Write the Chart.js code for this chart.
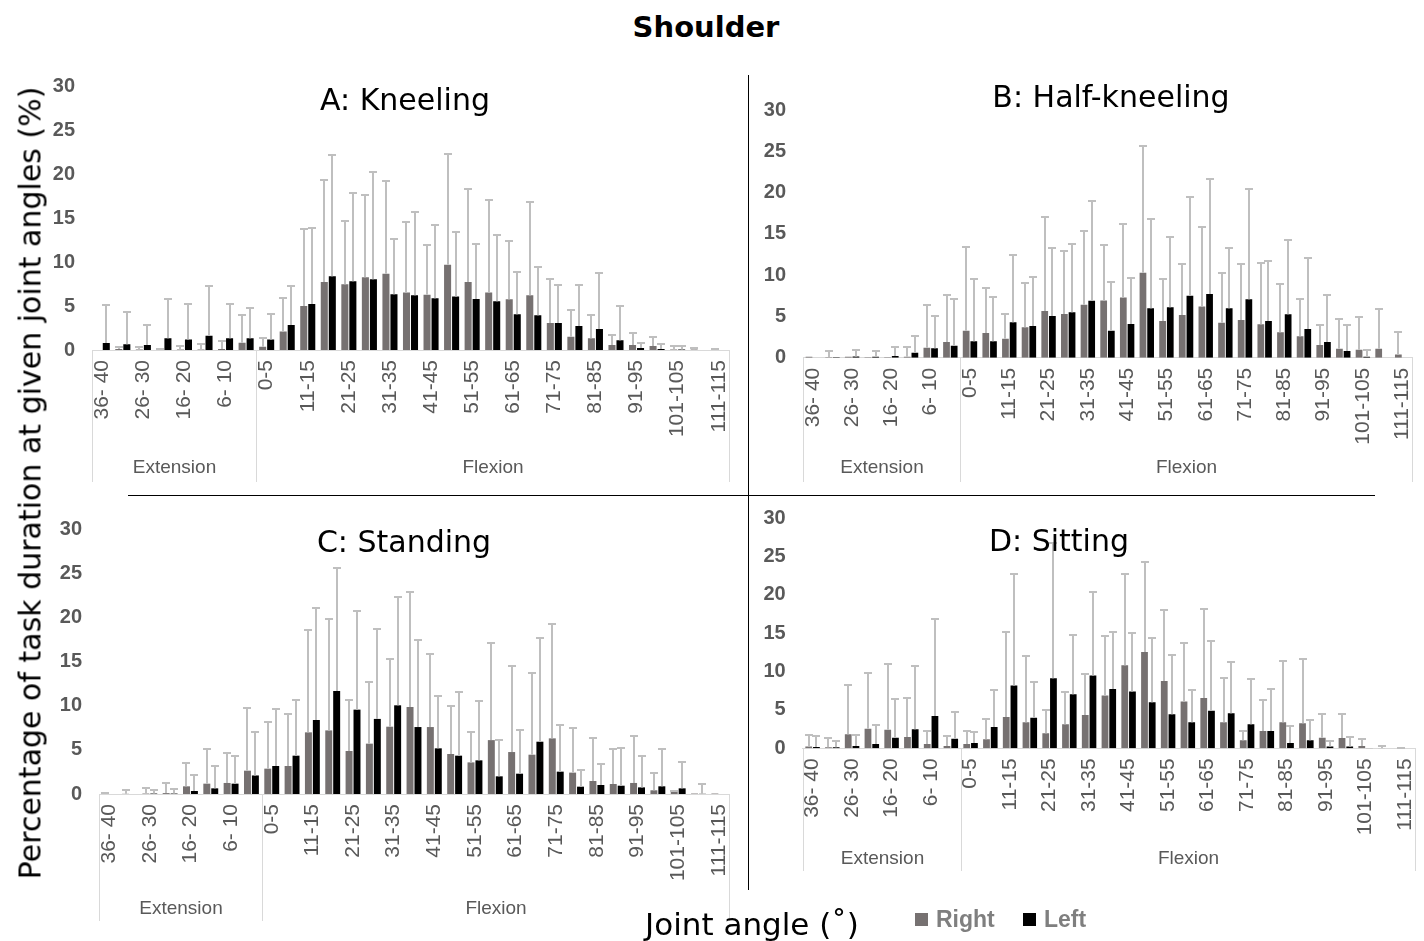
<!DOCTYPE html>
<html>
<head>
<meta charset="utf-8">
<script src="https://cdn.jsdelivr.net/npm/chart.js@4.4.1/dist/chart.umd.min.js"></script>
<style>
  body { margin: 0; background: #fff; width: 1424px; height: 941px; position: relative; overflow: hidden; font-family: "DejaVu Sans", sans-serif; }
  canvas { position: absolute; }
  .txt { position: absolute; white-space: nowrap; transform: translate(-50%, -50%); color: #000; }
  .line { position: absolute; background: #000; }
  .key { position: absolute; font-family: 'Liberation Sans', Arial, sans-serif; font-size: 23px; font-weight: bold; color: #7f7f7f; white-space: nowrap; }
  .sq { position: absolute; width: 13px; height: 13px; }
</style>
</head>
<body>
<canvas id="kneeling" width="700" height="415" style="left:40px;top:75px"></canvas>
<canvas id="halfKneeling" width="674" height="415" style="left:750px;top:75px"></canvas>
<canvas id="standing" width="700" height="430" style="left:40px;top:505px"></canvas>
<canvas id="sitting" width="674" height="380" style="left:750px;top:505px"></canvas>

<div class="line" style="left:748px;top:75px;width:1px;height:815px"></div>
<div class="line" style="left:128px;top:495px;width:1247px;height:1px"></div>

<div class="txt" style="left:706px;top:27px;font-size:29px;font-weight:bold">Shoulder</div>
<div class="txt" style="left:405px;top:99px;font-size:30px">A: Kneeling</div>
<div class="txt" style="left:1111px;top:96px;font-size:30px">B: Half-kneeling</div>
<div class="txt" style="left:404px;top:541px;font-size:30px">C: Standing</div>
<div class="txt" style="left:1059px;top:540px;font-size:30px">D: Sitting</div>
<div class="txt" style="left:30px;top:483px;font-size:30px;transform:translate(-50%,-50%) rotate(-90deg)">Percentage of task duration at given joint angles (%)</div>
<div class="txt" style="left:752px;top:924px;font-size:31px">Joint angle (˚)</div>

<div class="sq" style="left:915px;top:913px;background:#767171"></div>
<div class="key" style="left:936px;top:906px">Right</div>
<div class="sq" style="left:1023px;top:913px;background:#000"></div>
<div class="key" style="left:1044px;top:906px">Left</div>

<script>
// angle classes, extension first then flexion
const extLabels = ['36- 40', '31- 35', '26- 30', '21- 25', '16- 20', '11- 15', '6- 10', '1- 5'];
const flexLabels = ['0-5', '6-10', '11-15', '16-20', '21-25', '26-30', '31-35', '36-40', '41-45', '46-50',
  '51-55', '56-60', '61-65', '66-70', '71-75', '76-80', '81-85', '86-90', '91-95', '96-100',
  '101-105', '106-110', '111-115'];
const labels = extLabels.concat(flexLabels);
const groups = ['Extension', 'Flexion'];
const yTicks = [0, 5, 10, 15, 20, 25, 30];

// A: kneeling (mean and mean + SD)
const kneelRight = [0, 0.1, 0.05, 0.05, 0.05, 0.05, 0.1, 0.84,
  0.38, 2.1, 5.0, 7.76, 7.5, 8.3, 8.7, 6.54, 6.3, 9.7, 7.76, 6.54, 5.78, 6.24, 3.08, 1.52,
  1.33, 0.57, 0.57, 0.46, 0.05, 0.05, 0.02];
const kneelRightHi = [0, 0.3, 0.3, 0.1, 0.4, 0.7, 1.06, 4.0,
  1.33, 5.9, 13.8, 19.4, 14.7, 17.7, 19.2, 14.6, 12.0, 22.3, 18.4, 17.1, 12.4, 16.9, 8.14, 4.56,
  4.0, 1.7, 1.9, 1.44, 0.5, 0.2, 0.08];
const kneelLeft = [0.8, 0.65, 0.57, 1.33, 1.2, 1.63, 1.33, 1.33,
  1.2, 2.85, 5.25, 8.4, 7.83, 8.06, 6.35, 6.24, 5.9, 6.1, 5.8, 5.55, 4.07, 3.95, 3.08, 2.74,
  2.4, 1.1, 0.23, 0.11, 0.05, 0, 0];
const kneelLeftHi = [5.1, 4.3, 2.9, 5.8, 5.2, 7.3, 5.2, 4.8,
  4.07, 7.3, 13.9, 22.2, 17.9, 20.3, 12.7, 15.7, 14.2, 13.5, 12.1, 13.1, 8.86, 9.47, 7.45, 7.45,
  8.8, 5.0, 0.84, 0.72, 0.5, 0, 0];

// B: half-kneeling
const halfRight = [0.1, 0.05, 0.1, 0.05, 0.05, 0.1, 1.2, 1.9,
  3.27, 3.0, 2.3, 3.7, 5.65, 5.3, 6.4, 6.94, 7.3, 10.3, 4.44, 5.17, 6.2, 4.24, 4.56, 4.04,
  3.07, 2.6, 1.53, 1.09, 0.97, 1.09, 0.4];
const halfRightHi = [0.1, 0.8, 0.1, 0.05, 0.05, 1.33, 6.4, 7.6,
  13.4, 8.5, 5.3, 9.04, 17.0, 12.96, 15.4, 13.6, 16.2, 25.6, 9.5, 11.3, 15.8, 10.25, 11.3, 11.5,
  8.9, 7.1, 4.0, 4.7, 4.9, 5.9, 3.07];
const halfLeft = [0, 0.05, 0.15, 0.1, 0.2, 0.6, 1.13, 1.45,
  1.98, 1.98, 4.28, 3.84, 5.05, 5.5, 6.9, 3.27, 4.08, 6.0, 6.1, 7.5, 7.7, 6.0, 7.07, 4.44,
  5.25, 3.47, 1.9, 0.8, 0.12, 0, 0];
const halfLeftHi = [0, 0.05, 0.9, 0.8, 1.35, 2.66, 5.05, 7.06,
  9.5, 7.3, 12.4, 9.8, 13.3, 13.8, 19.0, 9.16, 9.7, 16.8, 14.6, 19.5, 21.6, 13.3, 20.4, 11.75,
  14.2, 12.1, 7.6, 3.9, 0.9, 0, 0];

// C: standing
const standRight = [0.05, 0.02, 0.05, 0.1, 0.87, 1.17, 1.25, 2.64,
  2.87, 3.17, 6.98, 7.2, 4.87, 5.7, 7.62, 9.85, 7.58, 4.53, 3.58, 6.1, 4.75, 4.45, 6.3, 2.42,
  1.47, 1.13, 1.25, 0.42, 0.23, 0.05, 0.05];
const standRightHi = [0.1, 0.5, 0.68, 1.28, 3.55, 5.13, 4.68, 9.77,
  8.1, 9.06, 18.6, 19.8, 10.6, 12.7, 15.3, 22.9, 15.9, 10.0, 7.06, 17.1, 14.5, 13.7, 19.2, 7.47,
  6.38, 5.1, 6.6, 2.34, 0.3, 0.05, 0.05];
const standLeft = [0, 0, 0.05, 0.05, 0.34, 0.64, 1.17, 2.1,
  3.17, 4.34, 8.38, 11.66, 9.55, 8.5, 10.04, 7.58, 5.17, 4.34, 3.81, 2.0, 2.3, 5.92, 2.53, 0.83,
  1.02, 0.94, 0.75, 0.87, 0.64, 0.02, 0];
const standLeftHi = [0, 0, 0.45, 0.53, 2.15, 3.2, 4.34, 7.06,
  9.66, 10.6, 21.1, 25.6, 20.75, 18.7, 22.3, 17.4, 11.1, 11.5, 10.5, 6.08, 7.25, 17.7, 7.85, 2.75,
  3.4, 5.2, 4.34, 5.1, 3.6, 1.17, 0];

// D: sitting
const sitRight = [0.22, 0.13, 1.83, 2.56, 2.43, 1.48, 0.56, 0.3,
  0.56, 1.17, 4.09, 3.4, 1.96, 3.13, 4.35, 6.9, 10.83, 12.57, 8.78, 6.09, 6.57, 3.39, 1.04, 2.26,
  3.39, 3.26, 1.39, 1.35, 0.3, 0.05, 0.05];
const sitRightHi = [1.74, 1.4, 8.2, 9.87, 11.04, 6.56, 2.26, 1.65,
  2.26, 3.83, 15.2, 12.0, 5.04, 7.3, 9.65, 14.7, 22.7, 24.26, 18.0, 13.74, 18.2, 9.17, 2.3, 6.35,
  11.39, 11.6, 4.48, 4.48, 1.26, 0.3, 0.1];
const sitLeft = [0.17, 0.13, 0.3, 0.56, 1.39, 2.48, 4.2, 1.26,
  0.7, 2.78, 8.2, 4.0, 9.13, 7.04, 9.48, 7.74, 7.4, 6.0, 4.43, 3.39, 4.91, 4.57, 3.13, 2.26,
  0.7, 1.04, 0.22, 0.22, 0.05, 0, 0];
const sitLeftHi = [1.6, 0.96, 1.7, 3.04, 6.43, 10.74, 16.87, 4.74,
  2.13, 7.6, 22.7, 8.7, 26.8, 14.8, 20.35, 15.17, 15.04, 14.35, 12.2, 7.65, 14.0, 11.26, 9.04, 7.74,
  2.9, 3.65, 0.96, 1.52, 0.05, 0, 0];

const tickFont = { family: "'Liberation Sans', Arial, sans-serif", size: 20 };

// upward-only SD whiskers
const errorBars = {
  id: 'errorBars',
  afterDatasetsDraw(chart) {
    const ctx = chart.ctx;
    const y = chart.scales.y;
    ctx.save();
    ctx.strokeStyle = '#bfbfbf';
    ctx.lineWidth = 2;
    chart.data.datasets.forEach((ds, d) => {
      chart.getDatasetMeta(d).data.forEach((bar, i) => {
        const hi = ds.upper[i];
        if (!(hi > ds.data[i])) return;
        const yHi = Math.round(y.getPixelForValue(hi));
        const x = Math.round(bar.x);
        ctx.beginPath();
        ctx.moveTo(x, bar.y);
        ctx.lineTo(x, yHi);
        ctx.moveTo(x - 4, yHi);
        ctx.lineTo(x + 4, yHi);
        ctx.stroke();
      });
    });
    ctx.restore();
  }
};

// Extension / Flexion boxes under the angle labels
const groupAxis = {
  id: 'groupAxis',
  afterDraw(chart, args, opts) {
    const x = chart.scales.x;
    const ctx = chart.ctx;
    const base = chart.chartArea.bottom;
    const edges = [-0.5, extLabels.length - 0.5, labels.length - 0.5].map(v => Math.round(x.getPixelForValue(v)) + 0.5);
    ctx.save();
    ctx.strokeStyle = '#d9d9d9';
    ctx.lineWidth = 1;
    edges.forEach(px => {
      ctx.beginPath();
      ctx.moveTo(px, base);
      ctx.lineTo(px, opts.lineEnd);
      ctx.stroke();
    });
    ctx.fillStyle = '#595959';
    ctx.font = "19px 'Liberation Sans', Arial, sans-serif";
    ctx.textAlign = 'center';
    ctx.textBaseline = 'middle';
    ctx.fillText(groups[0], (edges[0] + edges[1]) / 2, opts.textY);
    ctx.fillText(groups[1], (edges[1] + edges[2]) / 2, opts.textY);
    ctx.restore();
  }
};

const makePanel = (id, right, rightHi, left, leftHi, box) => {
  return new Chart(document.getElementById(id), {
    type: 'bar',
    data: {
      labels: labels,
      datasets: [
        { label: 'Right', data: right, upper: rightHi, backgroundColor: '#767171', categoryPercentage: 0.78, barPercentage: 0.88 },
        { label: 'Left', data: left, upper: leftHi, backgroundColor: '#000000', categoryPercentage: 0.78, barPercentage: 0.88 },
      ],
    },
    options: {
      responsive: false,
      animation: false,
      layout: { padding: { top: box.padTop, right: box.padRight, left: 0, bottom: 0 } },
      plugins: {
        legend: { display: false },
        tooltip: { enabled: false },
        groupAxis: { textY: box.textY, lineEnd: box.lineEnd },
      },
      scales: {
        x: {
          grid: { display: false, drawTicks: false },
          border: { display: true, color: '#d9d9d9', width: 1 },
          ticks: {
            autoSkip: false,
            maxRotation: 90,
            minRotation: 90,
            padding: 10,
            color: '#595959',
            font: Object.assign({}, tickFont, { size: 21 }),
            callback: (v, i) => (i % 2 === 0 ? labels[i] : ''),
          },
          afterFit: s => { s.height = box.xHeight; s.paddingLeft = 0; s.paddingRight = 0; },
        },
        y: {
          min: 0,
          max: 30,
          grid: { display: false, drawTicks: false },
          border: { display: false },
          afterBuildTicks: s => { s.ticks = yTicks.map(v => ({ value: v })); },
          ticks: { padding: 17, color: '#595959', font: Object.assign({}, tickFont, { weight: 'bold' }) },
          afterFit: s => { s.width = box.yWidth; s.paddingTop = 0; s.paddingBottom = 0; },
        },
      },
    },
    plugins: [errorBars, groupAxis],
  });
};

makePanel('kneeling', kneelRight, kneelRightHi, kneelLeft, kneelLeftHi,
  { yWidth: 52, padTop: 11.7, padRight: 11, xHeight: 140, textY: 393, lineEnd: 407 });
makePanel('halfKneeling', halfRight, halfRightHi, halfLeft, halfLeftHi,
  { yWidth: 53, padTop: 35, padRight: 12, xHeight: 132.3, textY: 393, lineEnd: 407 });
makePanel('standing', standRight, standRightHi, standLeft, standLeftHi,
  { yWidth: 59, padTop: 24, padRight: 11, xHeight: 141, textY: 404, lineEnd: 416 });
makePanel('sitting', sitRight, sitRightHi, sitLeft, sitLeftHi,
  { yWidth: 52.7, padTop: 13.3, padRight: 9, xHeight: 136.7, textY: 354, lineEnd: 366 });
</script>
</body>
</html>
